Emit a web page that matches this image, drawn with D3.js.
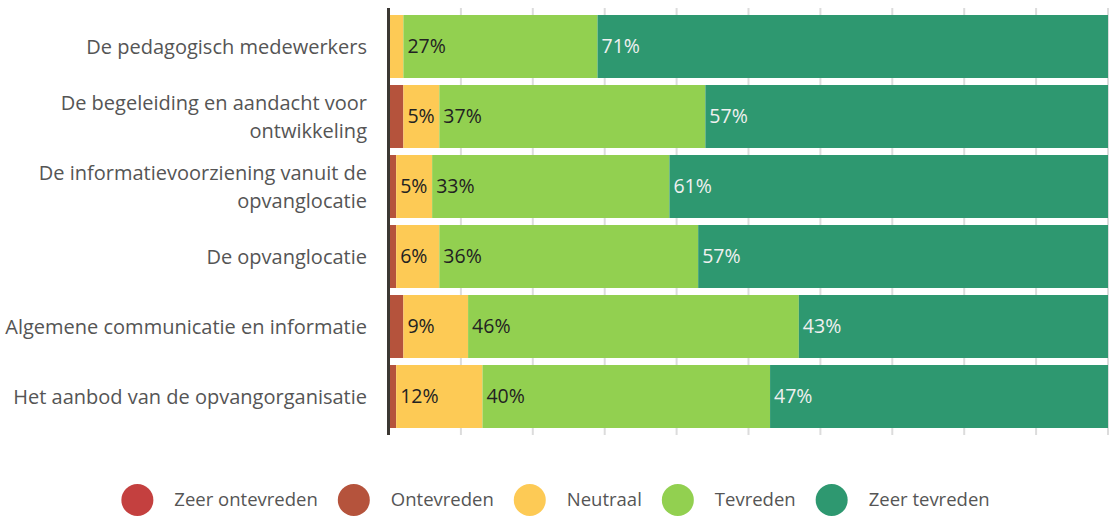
<!DOCTYPE html>
<html>
<head>
<meta charset="utf-8">
<script src="https://cdn.jsdelivr.net/npm/d3@7"></script>
<style>
  body { margin: 0; background: #fff; }
  svg { display: block; font-family: "Open Sans", sans-serif; }
</style>
</head>
<body>
<div id="chart"></div>
<script>
const WIDTH = 1111
const HEIGHT = 516

const categories = [
    'De pedagogisch medewerkers',
    'De begeleiding en aandacht voor ontwikkeling',
    'De informatievoorziening vanuit de opvanglocatie',
    'De opvanglocatie',
    'Algemene communicatie en informatie',
    'Het aanbod van de opvangorganisatie'
]
const seriesNames = ['Zeer ontevreden', 'Ontevreden', 'Neutraal', 'Tevreden', 'Zeer tevreden']
const seriesColors = ['#c4403f', '#b5533c', '#fdca55', '#92d050', '#2e9870']

const zeerOntevreden = [0, 0, 0, 0, 0, 0]
const ontevreden = [0, 2, 1, 1, 2, 1]
const neutraal = [2, 5, 5, 6, 9, 12]
const tevreden = [27, 37, 33, 36, 46, 40]
const zeerTevreden = [71, 57, 61, 57, 43, 47]

const xTicks = [0, 10, 20, 30, 40, 50, 60, 70, 80, 90, 100]

const seriesValues = [zeerOntevreden, ontevreden, neutraal, tevreden, zeerTevreden]

// table for d3.stack
const rows = categories.map((c, i) => {
    let row = { category: c }
    seriesNames.forEach((s, j) => row[s] = seriesValues[j][i])
    return row
})

const svg = d3.select('#chart').append('svg').attr('width', WIDTH).attr('height', HEIGHT)

const x = d3.scaleLinear().domain([0, 100]).range([389, 1108]).clamp(true)
const y = d3.scaleBand().domain(categories).range([11.5, 431.5]).paddingInner(0.1).paddingOuter(0.05)
const color = d3.scaleOrdinal().domain(seriesNames).range(seriesColors)

// grid
svg.append('g')
    .selectAll('line')
    .data(xTicks)
    .enter()
    .append('line')
    .attr('x1', d => x(d)).attr('x2', d => x(d))
    .attr('y1', 8).attr('y2', 435)
    .attr('stroke', '#dcdcdc')
    .attr('stroke-width', 2)

const stacked = d3.stack().keys(seriesNames)(rows)

const layers = svg.append('g')
    .selectAll('g')
    .data(stacked)
    .enter()
    .append('g')
    .attr('fill', d => color(d.key))

layers.selectAll('rect')
    .data(d => d)
    .enter()
    .append('rect')
    .attr('x', d => x(d[0]))
    .attr('y', d => y(d.data.category))
    .attr('width', d => Math.max(0, x(d[1]) - x(d[0])))
    .attr('height', y.bandwidth())

// value labels
layers.selectAll('text')
    .data(d => d.map(v => Object.assign({ key: d.key }, v)))
    .enter()
    .filter(d => d[1] - d[0] >= 4)
    .append('text')
    .attr('x', d => x(d[0]) + 4)
    .attr('y', d => y(d.data.category) + y.bandwidth() / 2)
    .attr('dy', '0.35em')
    .attr('font-size', 19.5)
    .attr('fill', d => d.key === 'Zeer tevreden' ? '#f0f0f0' : '#222')
    .text(d => Math.round(d[1] - d[0]) + '%')

// axis line
svg.append('line')
    .attr('x1', 388.5).attr('x2', 388.5)
    .attr('y1', 8).attr('y2', 435)
    .attr('stroke', '#3b3833')
    .attr('stroke-width', 3)

// category labels, wrapped
const yAxis = d3.axisLeft(y).tickSize(0).tickPadding(0)
const yG = svg.append('g').attr('transform', 'translate(367,0)').call(yAxis)
yG.select('.domain').remove()
yG.selectAll('text')
    .attr('font-size', 20)
    .attr('font-family', '"Open Sans", sans-serif')
    .attr('fill', '#555')
    .call(wrap, 368)

function wrap(texts, width) {
    texts.each(function () {
        const text = d3.select(this)
        const words = text.text().split(/\s+/)
        const lines = []
        let line = []
        text.text(null)
        const probe = text.append('tspan')
        words.forEach(w => {
            line.push(w)
            probe.text(line.join(' '))
            if (probe.node().getComputedTextLength() > width && line.length > 1) {
                line.pop()
                lines.push(line.join(' '))
                line = [w]
            }
        })
        lines.push(line.join(' '))
        probe.remove()
        const lh = 28
        const start = -(lines.length - 1) * lh / 2
        lines.forEach((l, i) => {
            text.append('tspan')
                .attr('x', 0)
                .attr('dy', i === 0 ? (start + 7) + 'px' : lh + 'px')
                .text(l)
        })
        text.attr('dy', null)
    })
}

// legend
const legend = svg.append('g')
const items = legend.selectAll('g')
    .data(seriesNames)
    .enter()
    .append('g')

items.append('circle')
    .attr('r', 16)
    .attr('cx', 16)
    .attr('cy', 0)
    .attr('fill', d => color(d))

items.append('text')
    .attr('x', 53)
    .attr('y', 0)
    .attr('dy', '0.35em')
    .attr('font-size', 18.5)
    .attr('fill', '#555')
    .text(d => d)

let offset = 0
items.each(function () {
    const g = d3.select(this)
    const w = 53 + g.select('text').node().getComputedTextLength()
    g.attr('transform', `translate(${offset},500)`)
    offset += w + 20
})
const total = offset - 20
legend.attr('transform', `translate(${(WIDTH - total) / 2},0)`)
</script>
</body>
</html>
